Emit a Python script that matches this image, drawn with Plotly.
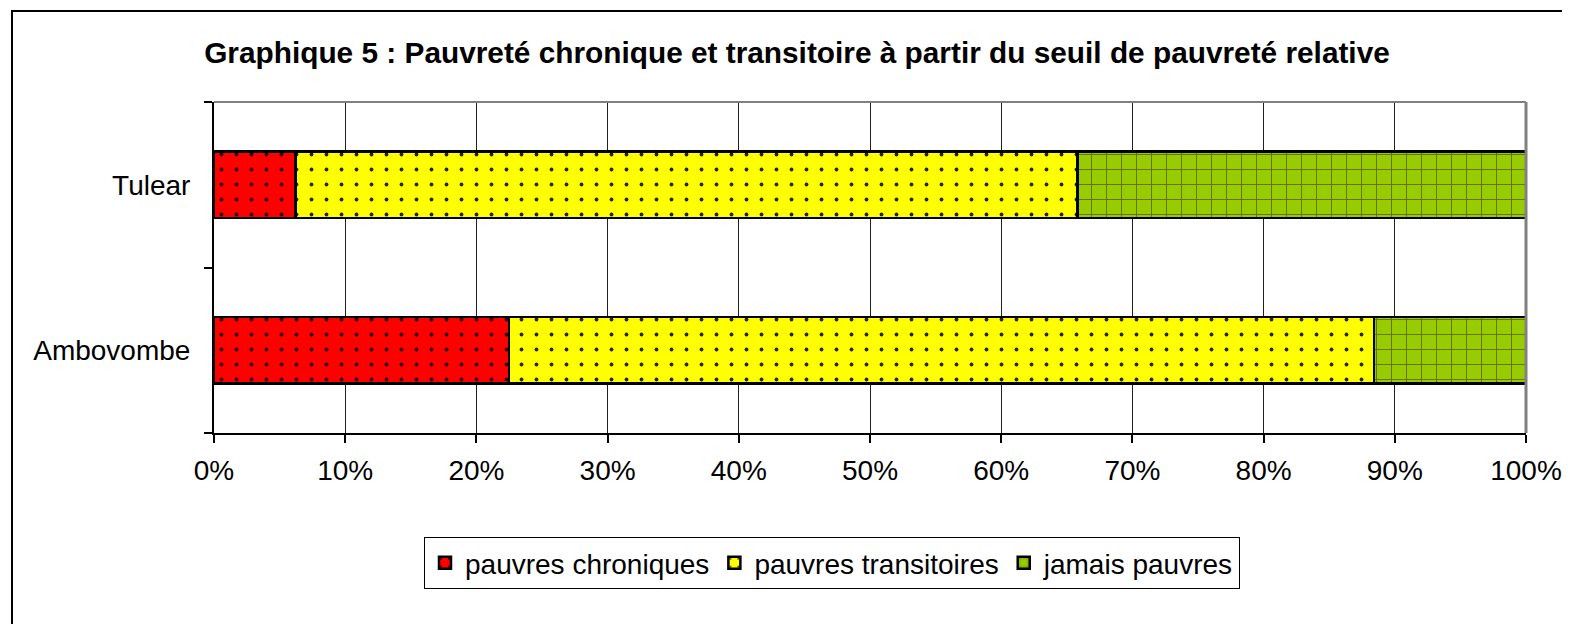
import plotly.graph_objects as go

categories = ["Ambovombe", "Tulear"]
series_names = ["pauvres chroniques", "pauvres transitoires", "jamais pauvres"]
chroniques = [22.5, 6.2]
transitoires = [65.9, 59.6]
jamais = [11.6, 34.2]
x_ticks = [0, 10, 20, 30, 40, 50, 60, 70, 80, 90, 100]
title_text = "Graphique 5 : Pauvreté chronique et transitoire à partir du seuil de pauvreté relative"

OFF = 8  # default page body margin
W, H = 1570 - 2 * OFF, 632 - 2 * OFF
L = 214 - OFF
R = (W + OFF) - 1526
T = 102 - OFF
B = (H + OFF) - 433
pw, ph = W - L - R, H - T - B

fig = go.Figure()
styles = [
    dict(color="#FF0000", pattern=dict(shape=".", size=15, solidity=0.05, fgcolor="#000000", fgopacity=0.85)),
    dict(color="#FFFF00", pattern=dict(shape=".", size=15, solidity=0.05, fgcolor="#000000", fgopacity=0.85)),
    dict(color="#99CC00", pattern=dict(shape="+", size=15, solidity=0.12, fgcolor="#333300", fgopacity=0.6)),
]
for name, vals, st in zip(series_names, [chroniques, transitoires, jamais], styles):
    fig.add_trace(go.Bar(
        y=categories, x=vals, name=name, orientation="h",
        marker=dict(color=st["color"], pattern=st["pattern"],
                    line=dict(color="#000000", width=2.5)),
        width=0.4,
    ))

def px2x(p):
    return (p - OFF - L) / pw

def py2y(p):
    return (H - B - (p - OFF)) / ph

shapes = [
    dict(type="rect", xref="paper", yref="paper",
         x0=px2x(12), x1=px2x(1600), y0=py2y(680), y1=py2y(11),
         line=dict(color="#000000", width=2), fillcolor="rgba(0,0,0,0)", layer="below"),
    dict(type="line", xref="paper", yref="paper", x0=0, x1=1, y0=1, y1=1,
         line=dict(color="#808080", width=2)),
    dict(type="line", xref="paper", yref="paper", x0=1, x1=1, y0=0, y1=1,
         line=dict(color="#808080", width=3)),
]

fig.update_layout(
    width=W, height=H,
    margin=dict(l=L, r=R, t=T, b=B, autoexpand=False),
    paper_bgcolor="#FFFFFF", plot_bgcolor="#FFFFFF",
    barmode="stack",
    font=dict(family="Liberation Sans, Arial, sans-serif", color="#000000", size=28),
    title=dict(text="<b>" + title_text + "</b>", x=(797 - OFF) / W, xanchor="center",
               y=1 - (53 - OFF) / H, yanchor="middle",
               font=dict(size=29.8, family="Liberation Sans, Arial, sans-serif", color="#000000")),
    xaxis=dict(range=[0, 100], tickvals=x_ticks, ticktext=[f"{v}%" for v in x_ticks],
               showgrid=True, gridcolor="#202020", gridwidth=1,
               showline=True, linecolor="#000000", linewidth=2,
               ticks="outside", ticklen=8, tickcolor="#000000", tickwidth=2,
               zeroline=False, tickfont=dict(size=28), ticklabelstandoff=3),
    yaxis=dict(range=[-0.5, 1.5], type="category", categoryorder="array",
               categoryarray=categories,
               showline=True, linecolor="#000000", linewidth=2,
               ticks="outside", ticklen=8, tickcolor="#000000", tickwidth=2,
               tickson="boundaries", showgrid=False, zeroline=False,
               tickfont=dict(size=28), ticklabelstandoff=16),
    legend=dict(orientation="h", x=px2x(832), xanchor="center",
                y=py2y(537), yanchor="top",
                bordercolor="#000000", borderwidth=1, bgcolor="#FFFFFF",
                font=dict(size=28), traceorder="normal", itemwidth=30,
                tracegroupgap=0),
    shapes=shapes,
    showlegend=True,
)

fig.write_html("out.html", config={"displayModeBar": False})
